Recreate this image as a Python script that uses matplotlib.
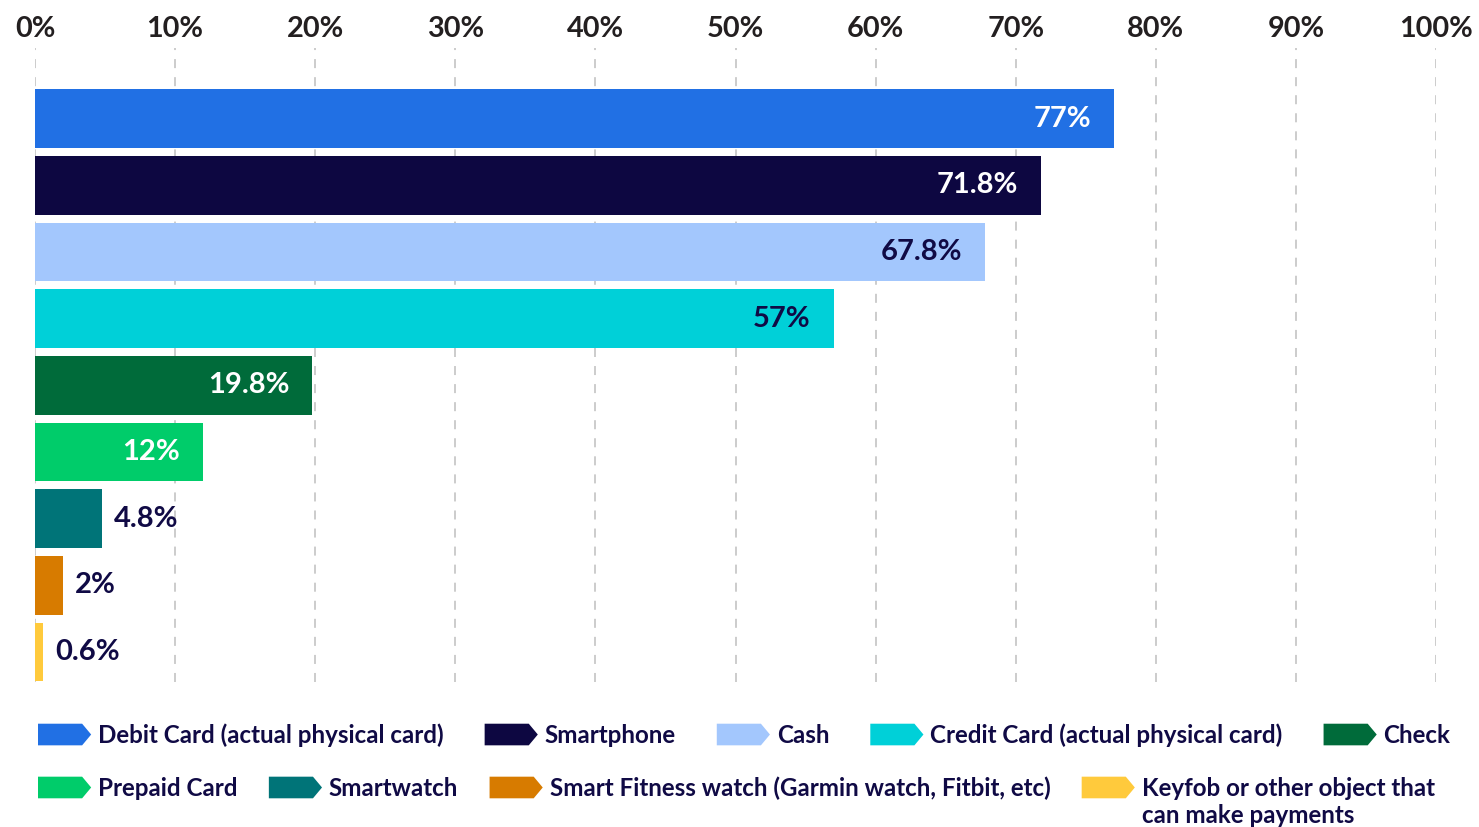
import matplotlib
matplotlib.use("Agg")
import matplotlib.pyplot as plt
from matplotlib.patches import Polygon
from matplotlib.legend_handler import HandlerPatch
from matplotlib.patches import Patch

# --------------------------
# Dane
# --------------------------
categories = [
    "Debit Card (actual physical card)",
    "Smartphone",
    "Cash",
    "Credit Card (actual physical card)",
    "Check",
    "Prepaid Card",
    "Smartwatch",
    "Smart Fitness watch (Garmin watch, Fitbit, etc)",
    "Keyfob or other object that",
]
values = [77, 71.8, 67.8, 57, 19.8, 12, 4.8, 2, 0.6]
value_labels = ["77%", "71.8%", "67.8%", "57%", "19.8%", "12%", "4.8%", "2%", "0.6%"]
colors = ["#2170E4", "#0D0741", "#A3C7FD", "#00D0D8", "#006B3A",
          "#00CC6A", "#007478", "#D77B00", "#FFCA3C"]
label_colors = ["white", "white", "#100A45", "#100A45", "white",
                "white", "#100A45", "#100A45", "#100A45"]
xticks = list(range(0, 101, 10))
xtick_labels = [f"{t}%" for t in xticks]

FONT = "Lato"
NAVY = "#100A45"


class ArrowHandler(HandlerPatch):
    # znacznik legendy w ksztalcie strzalki
    def create_artists(self, legend, orig_handle, xdescent, ydescent,
                       width, height, fontsize, trans):
        x0, y0 = -xdescent, -ydescent
        tip = width * 0.17
        pts = [(x0, y0), (x0 + width - tip, y0), (x0 + width, y0 + height / 2),
               (x0 + width - tip, y0 + height), (x0, y0 + height)]
        p = Polygon(pts, closed=True, facecolor=orig_handle.get_facecolor(),
                    edgecolor="none", transform=trans)
        return [p]


fig = plt.figure(figsize=(14.79, 8.27), dpi=100)
ax = fig.add_axes([35 / 1479, 1 - 682 / 827, (1436 - 35) / 1479, (682 - 48) / 827])

ypos = list(range(len(values)))
ax.barh(ypos, values, height=0.88, color=colors, zorder=2)

for y, v, lab, c in zip(ypos, values, value_labels, label_colors):
    if v >= 10:
        ax.annotate(lab, (v, y), xytext=(-16.5, 0), textcoords="offset points",
                    ha="right", va="center", color=c, fontsize=21,
                    fontweight="bold", family=FONT)
    else:
        ax.annotate(lab, (v, y), xytext=(8.5, 0), textcoords="offset points",
                    ha="left", va="center", color=NAVY, fontsize=21,
                    fontweight="bold", family=FONT)

ax.set_xlim(0, 100)
ax.set_ylim(8.45, -1.06)
ax.set_xticks(xticks)
ax.set_xticklabels(xtick_labels, fontsize=20.8, fontweight="bold", family=FONT,
                   color="#231F20")
ax.xaxis.tick_top()
ax.tick_params(axis="x", length=0, pad=4.5)
ax.set_yticks([])
for s in ax.spines.values():
    s.set_visible(False)
ax.grid(axis="x", color="#C8C8C8", linestyle=(0, (5, 5)), linewidth=1.3, zorder=0)

# --------------------------
# Legenda w dwoch wierszach
# --------------------------
handles = [Patch(facecolor=c) for c in colors]
leg_kw = dict(frameon=False, handler_map={Patch: ArrowHandler()},
              handlelength=2.2, handleheight=1.0, handletextpad=0.28,
              borderpad=0, borderaxespad=0,
              prop={"family": FONT, "weight": "bold", "size": 17.4},
              labelcolor=NAVY, loc="center left")
leg1 = fig.legend(handles[:5], categories[:5], ncol=5, columnspacing=1.7,
                  bbox_to_anchor=(38 / 1479, 1 - 735 / 827), **leg_kw)
leg2 = fig.legend(handles[5:], categories[5:], ncol=4, columnspacing=1.3,
                  bbox_to_anchor=(38 / 1479, 1 - 788 / 827), **leg_kw)

# druga linia ostatniej etykiety
fig.canvas.draw()
bb = leg2.get_texts()[-1].get_window_extent().transformed(fig.transFigure.inverted())
fig.text(bb.x0, bb.y0 - 27 / 827, "can make payments", ha="left", va="bottom",
         family=FONT, fontweight="bold", fontsize=17.4, color=NAVY)

fig.savefig("out.png", dpi=100)
